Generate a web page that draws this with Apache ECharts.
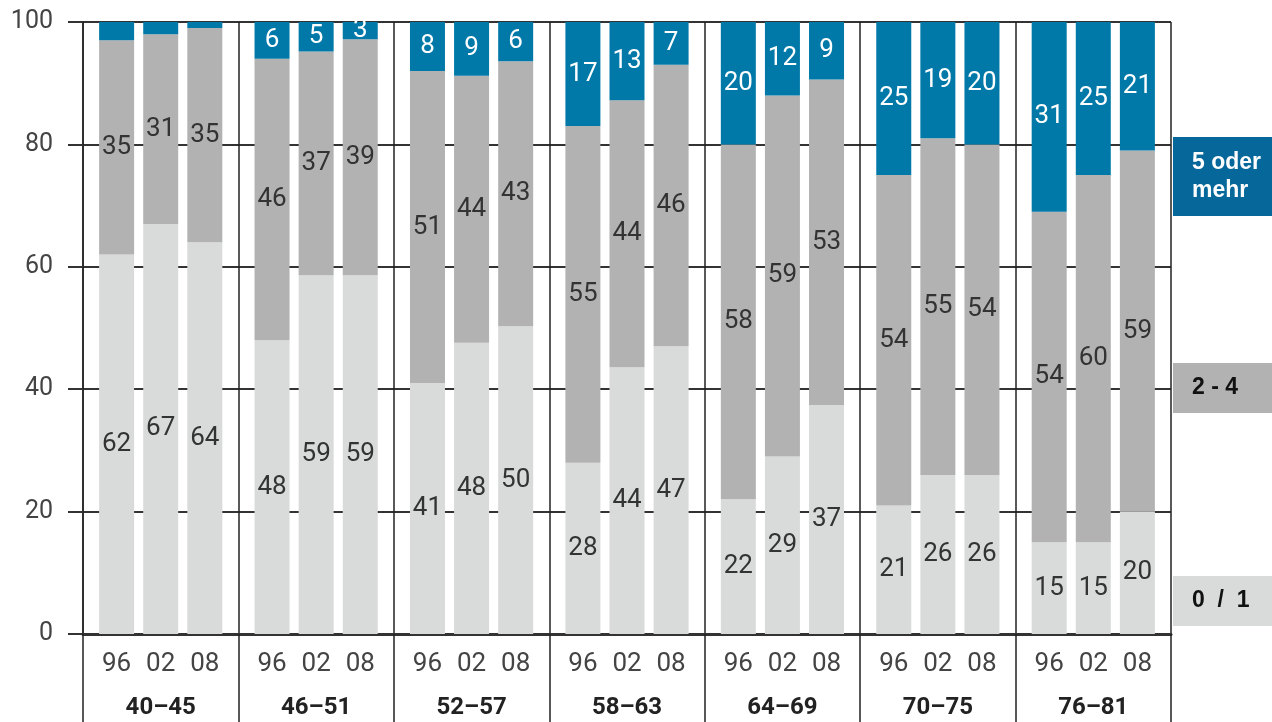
<!DOCTYPE html>
<html>
<head>
<meta charset="utf-8">
<script src="https://cdn.jsdelivr.net/npm/echarts@6/dist/echarts.min.js"></script>
<style>
html, body { margin: 0; padding: 0; background: #fff; }
#chart { width: 1272px; height: 722px; }
</style>
</head>
<body>
<div id="chart"></div>
<script>
// Altersgruppen und Erhebungsjahre
const groups = ['40–45', '46–51', '52–57', '58–63', '64–69', '70–75', '76–81'];
const years = ['96', '02', '08'];

// Anteile in % je Jahr (0/1, 2-4, 5 oder mehr)
// einzelne Werte mit Nachkomma, damit die Säulen wie im Original auf 100 enden
const low96 = [62, 48, 41, 28, 22, 21, 15];
const low02 = [67, 58.6, 47.6, 43.6, 29, 26, 15];
const low08 = [64, 58.6, 50.3, 47, 37.4, 26, 20];
const mid96 = [35, 46, 51, 55, 58, 54, 54];
const mid02 = [31, 36.6, 43.6, 43.6, 59, 55, 60];
const mid08 = [35, 38.6, 43.3, 46, 53.2, 54, 59];
const high96 = [3, 6, 8, 17, 20, 25, 31];
const high02 = [2, 4.8, 8.8, 12.8, 12, 19, 25];
const high08 = [1, 2.8, 6.4, 7, 9.4, 20, 21];

const yTicks = [0, 20, 40, 60, 80, 100];

const lowByYear = { '96': low96, '02': low02, '08': low08 };
const midByYear = { '96': mid96, '02': mid02, '08': mid08 };
const highByYear = { '96': high96, '02': high02, '08': high08 };

const FONT = "'Liberation Sans Narrow', 'Roboto', sans-serif";
const LEGEND_FONT = "'Liberation Sans', Arial, sans-serif";

const chart = echarts.init(document.getElementById('chart'));

const barBase = {
  type: 'bar',
  barWidth: 35,
  barGap: '26%',
  animation: false
};

const series = [];
years.forEach(y => {
  // Träger für die Jahresbeschriftung unter jeder Säule
  series.push(Object.assign({}, barBase, {
    name: 'Jahr ' + y,
    stack: y,
    silent: true,
    data: groups.map(() => 0),
    itemStyle: { color: 'transparent' },
    label: {
      show: true,
      position: 'bottom',
      distance: 17,
      formatter: y,
      color: '#444',
      fontSize: 26,
      fontFamily: FONT
    }
  }));
  series.push(Object.assign({}, barBase, {
    name: '0 / 1',
    stack: y,
    data: lowByYear[y],
    itemStyle: { color: '#D9DADA' },
    label: {
      show: true, position: 'inside', color: '#333', fontSize: 26, fontFamily: FONT,
      formatter: p => Math.round(p.value)
    }
  }));
  series.push(Object.assign({}, barBase, {
    name: '2 - 4',
    stack: y,
    data: midByYear[y],
    itemStyle: { color: '#B2B2B2' },
    label: {
      show: true, position: 'inside', color: '#333', fontSize: 26, fontFamily: FONT,
      formatter: p => Math.round(p.value)
    }
  }));
  series.push(Object.assign({}, barBase, {
    name: '5 oder mehr',
    stack: y,
    data: highByYear[y],
    itemStyle: { color: '#0079A8' },
    label: {
      show: true,
      position: 'inside',
      color: '#fff',
      fontSize: 26,
      fontFamily: FONT,
      // in der ersten Gruppe keine Werte im blauen Teil
      formatter: p => (p.dataIndex === 0 ? '' : Math.round(p.value))
    }
  }));
});

const legendBase = {
  orient: 'vertical',
  icon: 'none',
  itemWidth: 0,
  itemHeight: 0,
  selectedMode: false,
  left: 1173,
  textStyle: {
    color: '#111',
    fontSize: 23,
    fontWeight: 'bold',
    fontFamily: LEGEND_FONT,
    lineHeight: 28
  }
};

const option = {
  animation: false,
  backgroundColor: '#fff',
  grid: { left: 83, right: 101, top: 22, bottom: 88 },
  legend: [
    Object.assign({}, legendBase, {
      data: ['5 oder mehr'],
      top: 137,
      backgroundColor: '#05679A',
      padding: [12, 60, 11, 14],
      formatter: () => '5 oder\nmehr',
      textStyle: Object.assign({}, legendBase.textStyle, { color: '#fff' })
    }),
    Object.assign({}, legendBase, {
      data: ['2 - 4'],
      top: 363,
      backgroundColor: '#B2B2B2',
      padding: [11, 60, 11, 14]
    }),
    Object.assign({}, legendBase, {
      data: ['0 / 1'],
      top: 576,
      backgroundColor: '#D9DADA',
      padding: [11, 60, 11, 14],
      formatter: () => '0  /  1'
    })
  ],
  xAxis: {
    type: 'category',
    data: groups,
    axisLine: { show: true, lineStyle: { color: '#333', width: 3 } },
    axisTick: { show: true, length: 90, lineStyle: { color: '#222', width: 1.5 } },
    splitLine: { show: true, lineStyle: { color: '#222', width: 1.5 } },
    axisLabel: {
      margin: 62,
      color: '#222',
      fontSize: 24,
      fontWeight: 'bold',
      fontFamily: FONT
    }
  },
  yAxis: {
    type: 'value',
    min: 0,
    max: 100,
    interval: 20,
    axisLine: { show: true, lineStyle: { color: '#222', width: 1.5 } },
    axisTick: { show: true, length: 15, lineStyle: { color: '#333', width: 2 } },
    splitLine: { show: true, lineStyle: { color: '#333', width: 2 } },
    axisLabel: {
      margin: 30,
      color: '#444',
      fontSize: 25,
      fontFamily: FONT,
      formatter: v => (yTicks.indexOf(v) >= 0 ? v : '')
    }
  },
  series: series
};

chart.setOption(option);
</script>
</body>
</html>
